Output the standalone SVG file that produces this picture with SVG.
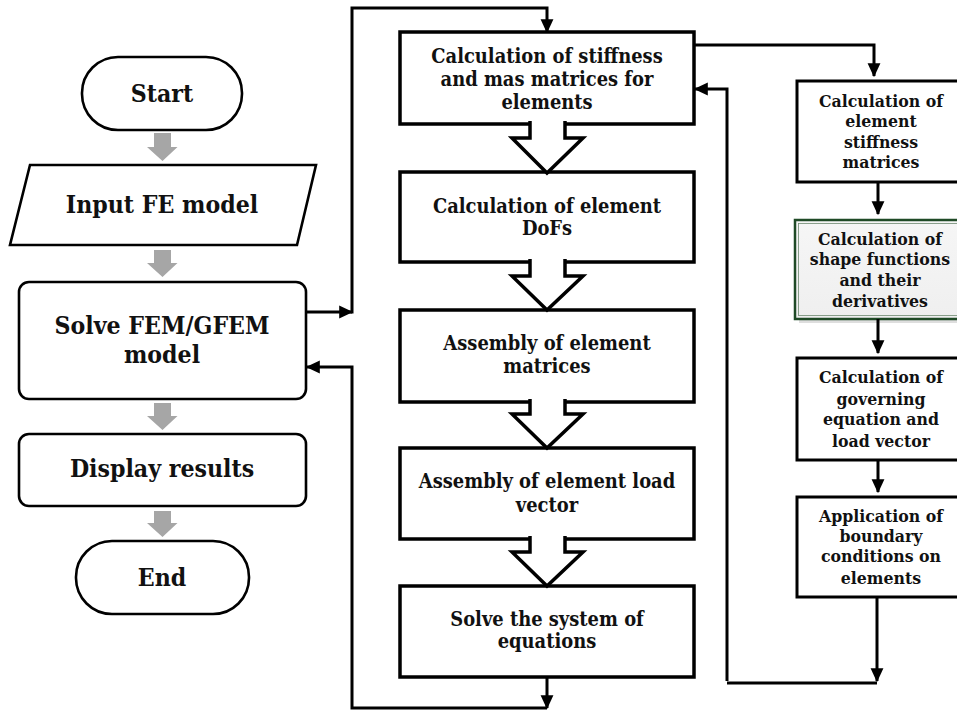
<svg xmlns="http://www.w3.org/2000/svg" width="957" height="711" viewBox="0 0 957 711">
<defs>
<style>
text{font-family:"DejaVu Serif","Liberation Serif",serif;font-stretch:condensed;font-weight:bold;fill:#111;text-anchor:middle}
.big{font-size:24.6px}
.mid{font-size:19.9px}
.sm{font-size:17.5px}
.lbox{fill:#fff;stroke:#000;stroke-width:2.6}
.mbox{fill:#fff;stroke:#000;stroke-width:3.5}
.rbox{fill:#fff;stroke:#000;stroke-width:3}
.garrow{fill:#a6a6a6}
.blk{fill:#fff;stroke:#000;stroke-width:3.5;stroke-linejoin:miter}
.con{fill:none;stroke:#000;stroke-width:3}
</style>
<marker id="ah" markerUnits="userSpaceOnUse" markerWidth="14" markerHeight="14" viewBox="0 0 12 12" refX="11" refY="6" orient="auto">
<path d="M0,0.5 L12,6 L0,11.5 z" fill="#000"/>
</marker>
<linearGradient id="gg" x1="0" y1="0" x2="0" y2="1">
<stop offset="0" stop-color="#f6f6f6"/>
<stop offset="1" stop-color="#efefef"/>
</linearGradient>
</defs>

<g id="start">
<rect class="lbox" x="82" y="57" width="160" height="73" rx="36" ry="36"/>
<text class="big" x="162" y="102">Start</text>
</g>
<g id="input">
<polygon class="lbox" points="30,165 316,165 297,245 10,245"/>
<text class="big" x="162" y="213">Input FE model</text>
</g>
<g id="solve">
<rect class="lbox" x="19" y="282" width="287" height="117" rx="10" ry="10"/>
<text class="big" x="162" y="334">Solve FEM/GFEM</text>
<text class="big" x="162" y="363">model</text>
</g>
<g id="display">
<rect class="lbox" x="19" y="434" width="287" height="72" rx="10" ry="10"/>
<text class="big" x="162" y="477">Display results</text>
</g>
<g id="end">
<rect class="lbox" x="76" y="541" width="173" height="73" rx="36" ry="36"/>
<text class="big" x="162" y="586">End</text>
</g>

<g id="m1">
<rect class="mbox" x="400" y="32" width="294" height="92"/>
<text class="mid" x="547" y="63">Calculation of stiffness</text>
<text class="mid" x="547" y="86">and mas matrices for</text>
<text class="mid" x="547" y="109">elements</text>
</g>
<g id="m2">
<rect class="mbox" x="400" y="172" width="294" height="90"/>
<text class="mid" x="547" y="213">Calculation of element</text>
<text class="mid" x="547" y="235">DoFs</text>
</g>
<g id="m3">
<rect class="mbox" x="400" y="310" width="294" height="92"/>
<text class="mid" x="547" y="350">Assembly of element</text>
<text class="mid" x="547" y="373">matrices</text>
</g>
<g id="m4">
<rect class="mbox" x="400" y="448" width="294" height="91"/>
<text class="mid" x="547" y="488">Assembly of element load</text>
<text class="mid" x="547" y="512">vector</text>
</g>
<g id="m5">
<rect class="mbox" x="400" y="586" width="294" height="91"/>
<text class="mid" x="547" y="626">Solve the system of</text>
<text class="mid" x="547" y="648">equations</text>
</g>

<g id="r1">
<rect class="rbox" x="797" y="81" width="170" height="101"/>
<text class="sm" x="881" y="107">Calculation of</text>
<text class="sm" x="881" y="127">element</text>
<text class="sm" x="881" y="148">stiffness</text>
<text class="sm" x="881" y="168">matrices</text>
</g>
<g id="r2">
<rect x="799" y="224" width="170" height="99" fill="#c8c8c8" opacity="0.6"/>
<rect x="795" y="220" width="170" height="99" fill="url(#gg)" stroke="#1f4a26" stroke-width="2.5"/>
<rect x="798.5" y="223.5" width="165" height="92" fill="none" stroke="#6f8a72" stroke-width="0.8"/>
<text class="sm" x="880" y="245">Calculation of</text>
<text class="sm" x="880" y="265">shape functions</text>
<text class="sm" x="880" y="286">and their</text>
<text class="sm" x="880" y="307">derivatives</text>
</g>
<g id="r3">
<rect class="rbox" x="797" y="358" width="170" height="102"/>
<text class="sm" x="881" y="383">Calculation of</text>
<text class="sm" x="881" y="405">governing</text>
<text class="sm" x="881" y="425">equation and</text>
<text class="sm" x="881" y="447">load vector</text>
</g>
<g id="r4">
<rect class="rbox" x="797" y="497" width="170" height="100"/>
<text class="sm" x="881" y="522">Application of</text>
<text class="sm" x="881" y="542">boundary</text>
<text class="sm" x="881" y="562">conditions on</text>
<text class="sm" x="881" y="584">elements</text>
</g>

<g id="connectors">
<path class="garrow" d="M154,133 H171 V147 H177.5 L162.5,161 L147,147 H154 Z"/>
<path class="garrow" d="M154,250 H171 V263 H177.5 L162.5,277 L147,263 H154 Z"/>
<path class="garrow" d="M154,403 H171 V416 H177.5 L162.5,430 L147,416 H154 Z"/>
<path class="garrow" d="M154,511 H171 V523 H177.5 L162.5,537 L147,523 H154 Z"/>

<path class="blk" d="M530,121 V138 H512 L547,173 L583,138 H565 V121"/>
<path class="blk" d="M530,259 V276 H512 L547,310 L583,276 H565 V259"/>
<path class="blk" d="M530,399 V414 H512 L547,448 L583,414 H565 V399"/>
<path class="blk" d="M530,536 V552 H512 L547,586 L583,552 H565 V536"/>

<path class="con" d="M306,312 H352" marker-end="url(#ah)"/>
<path class="con" d="M352,313.5 V8 H547 V32" marker-end="url(#ah)"/>
<path class="con" d="M547,677 V708" marker-end="url(#ah)"/>
<path class="con" d="M547,708 H352 V367 H307" marker-end="url(#ah)"/>

<path class="con" d="M694,45 H874 V76" marker-end="url(#ah)"/>
<path class="con" d="M878,182 V214" marker-end="url(#ah)"/>
<path class="con" d="M878,319 V353" marker-end="url(#ah)"/>
<path class="con" d="M878,460 V492" marker-end="url(#ah)"/>
<path class="con" d="M877,597 V681" marker-end="url(#ah)"/>
<path class="con" d="M877,683 H727"/>
<path class="con" d="M727,681 V89 H695" marker-end="url(#ah)"/>
</g>
</svg>
